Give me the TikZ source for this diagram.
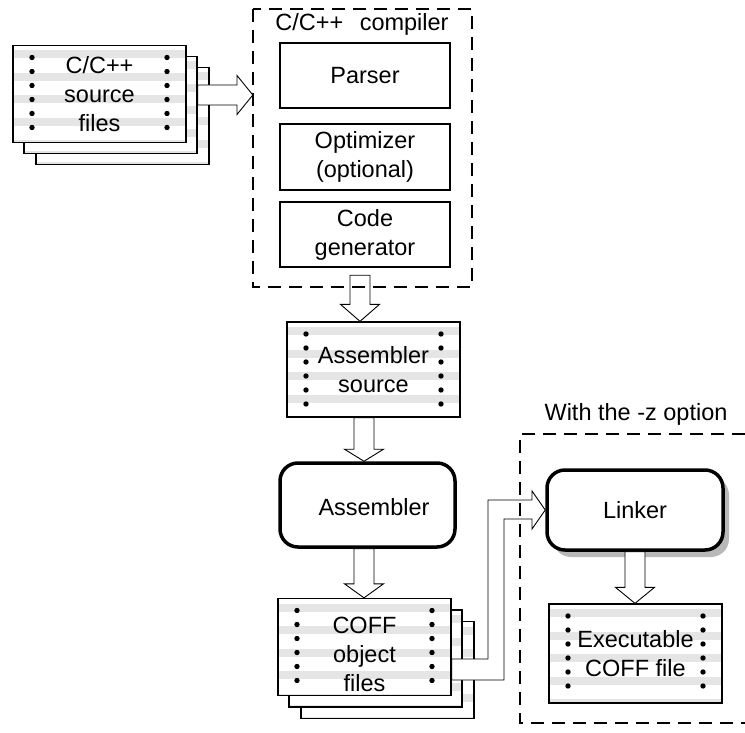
\documentclass[tikz,border=0pt]{standalone}
\usepackage{fontspec}
\setmainfont{Liberation Sans}
\usetikzlibrary{calc,shadows}

% vertical hollow block arrow: shaft centre x, start point, tip point, head length
\newcommand\downblock[4]{%
  \draw[blockarrow] let \p1=(#2), \p2=(#3) in
    (#1pt-10pt,\y1) -- (#1pt+10pt,\y1) -- (#1pt+10pt,\y2+#4pt) -- (#1pt+19.5pt,\y2+#4pt)
    -- (#1pt,\y2) -- (#1pt-19.5pt,\y2+#4pt) -- (#1pt-10pt,\y2+#4pt) -- cycle;}

\begin{document}
\begin{tikzpicture}[x=1pt,y=-1pt,
  lbl/.style={font=\fontsize{23.5}{29}\selectfont, align=center, inner sep=0pt},
  filebox/.style={draw, line width=1.3pt, fill=white, minimum width=173pt,
    minimum height=97pt, lbl,
    path picture={
      \foreach \k in {0,...,4}
        \fill[black!10] ([yshift={-5pt-22.5pt*\k}]path picture bounding box.north west)
          rectangle ([yshift={-13pt-22.5pt*\k}]path picture bounding box.north east);
      \foreach \k in {0,...,5} {
        \fill[black] ([xshift=19pt,yshift={-12pt-14pt*\k}]path picture bounding box.north west) circle (2.7pt);
        \fill[black] ([xshift=-19pt,yshift={-12pt-14pt*\k}]path picture bounding box.north east) circle (2.7pt);
      }}},
  stagebox/.style={draw, line width=2pt, fill=white, minimum width=170pt, lbl},
  procbox/.style={draw, line width=3.5pt, rounded corners=18pt, fill=white, lbl},
  dashbox/.style={draw, line width=2pt, dash pattern=on 13pt off 8pt},
  blockarrow/.style={draw, line width=0.9pt, fill=white, line join=miter}]

\useasboundingbox (0,0) rectangle (745,733);

% compiler frame (outline drawn last, over the arrows)
\path node[minimum width=219pt, minimum height=278pt, inner sep=0pt] (comp) at (362.5,148) {};

% source files stack
\node[filebox] (src3) at (122.5,116) {};
\node[filebox] (src2) at (110.5,105) {};
\node[filebox] (src) at (99.5,94) {C/C++\\source\\files};

% compiler stages
\node[stagebox, minimum height=65pt] (parse) at (365,75.5) {Parser};
\node[stagebox, minimum height=66pt] (opt) at (365,157) {Optimizer\\(optional)};
\node[stagebox, minimum height=65pt] (cgen) at (365,234.5) {Code\\generator};
\node[lbl] (comptitle) at (362,24) {C/C++\hspace{0.7em}compiler};

% assembler source
\node[filebox, minimum height=95pt] (asmsrc) at (373.5,369.5) {Assembler\\source};

% assembler
\node[procbox, minimum width=175pt, minimum height=84pt] (asm) at (367.5,505) {};
\node[lbl] (asmtext) at (374,507) {Assembler};

% COFF object files stack
\node[filebox] (coff3) at (387.5,670) {};
\node[filebox] (coff2) at (375.5,658.5) {};
\node[filebox] (coff) at (364.5,647) {};
\node[lbl] (cofftext) at (364.5,654) {COFF\\object\\files};

% linker and its output
\node[procbox, minimum width=176pt, minimum height=80pt,
  drop shadow={shadow xshift=6pt, shadow yshift=-7pt, fill=black!28, opacity=1}] (link) at (635,510) {Linker};
\node[filebox, minimum height=99pt] (exec) at (635.5,653.5) {Executable\\COFF file};
\node[lbl] (ztitle) at (636,414) {With the -z option};

% block arrows
\draw[blockarrow] (src2.east |- 0,85) -- (237,85) -- (237,75.5) -- (comp.west |- 0,95)
  -- (237,114.5) -- (237,105) -- (src2.east |- 0,105) -- cycle;
\downblock{360}{[yshift=12pt]comp.south}{asmsrc.north}{17}
\downblock{364}{asmsrc.south}{asm.north}{12}
\downblock{364}{asm.south}{coff.north}{14}
\downblock{635}{link.south}{exec.north}{16}
\draw[blockarrow] (coff.east |- 0,659) -- (488,659) -- (488,500) -- (532,500) -- (532,491)
  -- (link.west) -- (532,529) -- (532,519) -- (504,519) -- (504,680) -- (coff.east |- 0,680) -- cycle;

% dashed groupings
\draw[dashbox] (comp.north west) rectangle (comp.south east);
\coordinate (zne) at (745,434);
\coordinate (znw) at (520,434);
\coordinate (zsw) at (520,723);
\coordinate (zse) at (745,723);
\draw[dashbox] (zne) -- (znw) -- (zsw) -- (zse);
\end{tikzpicture}
\end{document}
